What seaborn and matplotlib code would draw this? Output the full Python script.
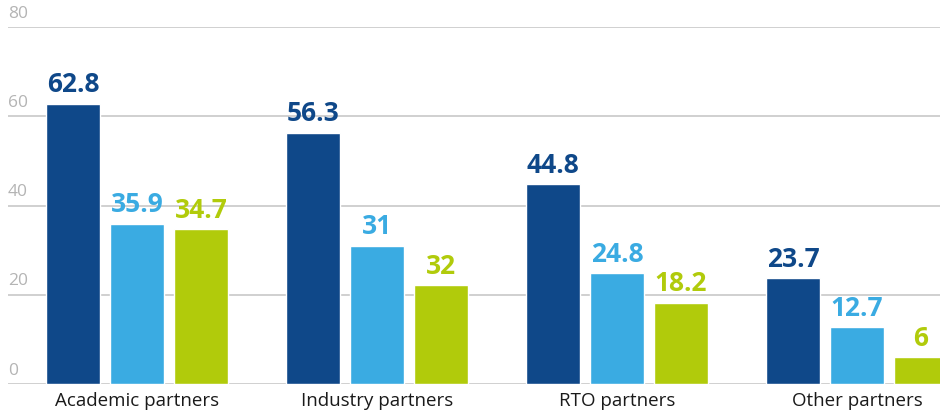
import matplotlib
matplotlib.use("Agg")
from matplotlib import pyplot as plt
import matplotlib.transforms as mtransforms
import seaborn as sns
import pandas as pd

# 데이터
categories = ["Academic partners", "Industry partners", "RTO partners", "Other partners"]
series = ["s1", "s2", "s3"]
values_s1 = [62.8, 56.3, 44.8, 23.7]
values_s2 = [35.9, 31.0, 24.8, 12.7]
values_s3 = [34.7, 22.2, 18.2, 6.0]
labels_s1 = ["62.8", "56.3", "44.8", "23.7"]
labels_s2 = ["35.9", "31", "24.8", "12.7"]
labels_s3 = ["34.7", "32", "18.2", "6"]
y_ticks = [0, 20, 40, 60, 80]

colors = ["#0f4889", "#3aabe2", "#b1cb0b"]

df = pd.DataFrame({
    "category": categories * 3,
    "series": [s for s in series for _ in categories],
    "value": values_s1 + values_s2 + values_s3,
})
all_labels = [labels_s1, labels_s2, labels_s3]

sns.set_style("white")
plt.rcParams['font.family'] = ['Open Sans', 'DejaVu Sans']

fig = plt.figure(figsize=(9.4, 4.18), dpi=100)
ax = fig.add_axes([8 / 940, 1 - 384 / 418, 1 - 8 / 940, (384 - 27) / 418])

sns.barplot(data=df, x="category", y="value", hue="series", order=categories,
            hue_order=series, palette=colors, width=0.8, gap=0.17,
            saturation=1, legend=False, ax=ax)

ax.set_ylim(0, 80)
ax.set_xlim(-0.5375, 3.346)
ax.set_yticks(y_ticks)
ax.set_yticklabels([])
ax.tick_params(axis="y", length=0)
ax.tick_params(axis="x", length=0, pad=6, labelsize=13.5, labelcolor="#1a1a1a")
ax.grid(axis="y", color="#c8c8c8", linewidth=1.2)
ax.set_axisbelow(True)
for s in ["top", "right", "left", "bottom"]:
    ax.spines[s].set_visible(False)
ax.set_xlabel("")
ax.set_ylabel("")

# y축 눈금 라벨 (선 위, 왼쪽)
trans = mtransforms.blended_transform_factory(ax.transAxes, ax.transData)
for t in y_ticks:
    ax.text(0.0, t + 1.2, str(t), transform=trans, ha="left", va="bottom",
            fontsize=12.5, color="#b4b4b4")

# 값 라벨
for i, cont in enumerate(ax.containers):
    for bar, lab in zip(cont, all_labels[i]):
        ax.text(bar.get_x() + bar.get_width() / 2, bar.get_height() + 1.2, lab,
                ha="center", va="bottom", fontsize=19, fontweight="bold",
                color=colors[i])

fig.savefig("out.png", dpi=100)
